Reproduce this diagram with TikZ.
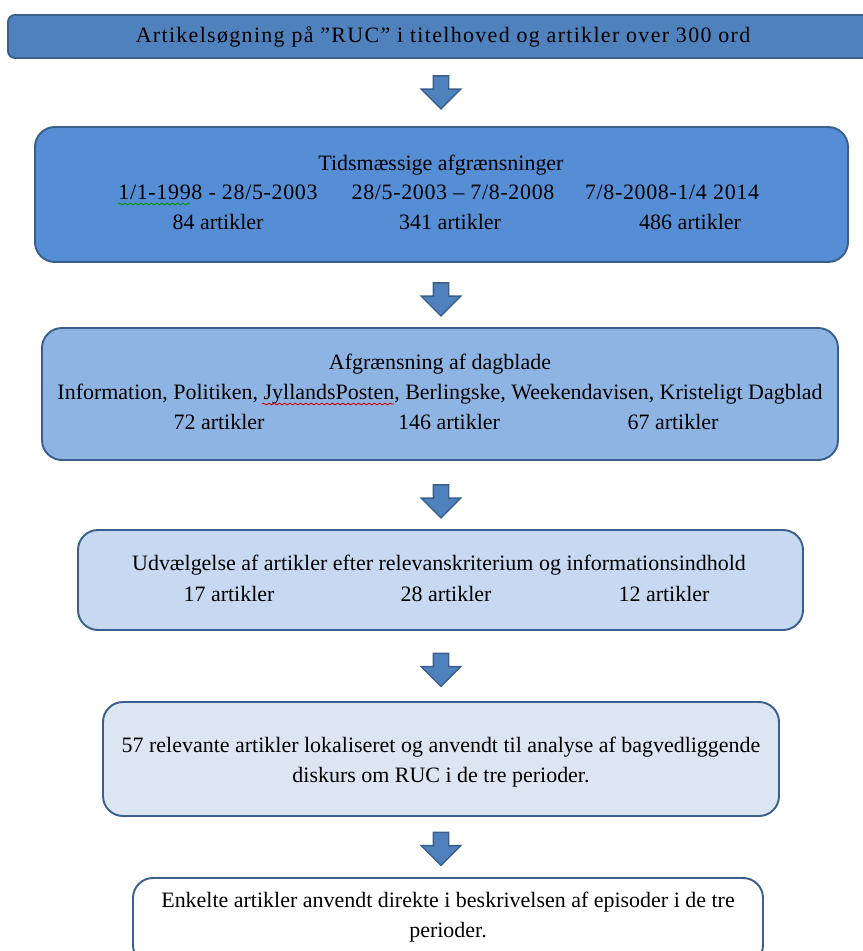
\documentclass[tikz,border=0pt]{standalone}
\usepackage{fontspec}
\setmainfont{Liberation Serif}
\usetikzlibrary{positioning, calc, shapes.arrows, decorations.pathmorphing}

\definecolor{edge}{HTML}{3A5F8C}
\definecolor{shadeA}{HTML}{4F81BD}
\definecolor{shadeB}{HTML}{558ED5}
\definecolor{shadeC}{HTML}{8EB4E3}
\definecolor{shadeD}{HTML}{C6D9F1}
\definecolor{shadeE}{HTML}{DCE6F2}

\begin{document}
\begin{tikzpicture}[x=0.2mm, y=-0.2mm, font=\fontsize{12.5}{15}\selectfont,
    stage/.style={draw=edge, line width=1.1pt, rounded corners=4mm, inner sep=0pt},
    txt/.style={inner sep=0pt, anchor=base},
    downarrow/.style={single arrow, draw=edge, fill=shadeA, line width=0.8pt,
        shape border rotate=270, minimum height=6.6mm, minimum width=7.6mm,
        single arrow head extend=2.4mm, inner xsep=1.4mm, inner ysep=0pt},
    squiggle/.style={line width=0.5pt, decorate, decoration={snake, amplitude=0.5pt, segment length=3pt}}]

    \useasboundingbox (0,0) rectangle (863,951);

    % Boxes of the selection steps
    \node (search) [stage, fill=shadeA, rounded corners=1.4mm, minimum width=174.4mm, minimum height=8.6mm] at (444,36.5) {};
    \node (period) [stage, fill=shadeB, minimum width=162.6mm, minimum height=27mm] at (441.5,194.5) {};
    \node (paper)  [stage, fill=shadeC, minimum width=159.2mm, minimum height=26.4mm] at (440,394) {};
    \node (select) [stage, fill=shadeD, minimum width=145mm, minimum height=20mm] at (440.5,580) {};
    \node (found)  [stage, fill=shadeE, minimum width=135.2mm, minimum height=22.8mm] at (441,759) {};
    \node (used)   [stage, fill=white, minimum width=126mm, minimum height=17.4mm] at (448,921.5) {};

    % Block arrows between the steps
    \node (a1) [downarrow] at (441,88.5) {};
    \node (a2) [downarrow] at (441,295.5) {};
    \node (a3) [downarrow] at (441,497.5) {};
    \node (a4) [downarrow] at (441,666) {};
    \node (a5) [downarrow] at (441,845) {};

    % Texts
    \node (t1) [txt, font=\fontsize{12.5}{15}\selectfont\addfontfeatures{LetterSpace=6}] at (443,43) {Artikelsøgning på ”RUC” i titelhoved og artikler over 300 ord};

    \node (t2) [txt] at (441,170) {Tidsmæssige afgrænsninger};
    \node (p1) [txt, font=\fontsize{12.5}{15}\selectfont\addfontfeatures{LetterSpace=3}] at (218,199) {1/1-1998 - 28/5-2003};
    \node (p2) [txt, font=\fontsize{12.5}{15}\selectfont\addfontfeatures{LetterSpace=3}] at (453,199) {28/5-2003 – 7/8-2008};
    \node (p3) [txt, font=\fontsize{12.5}{15}\selectfont\addfontfeatures{LetterSpace=3}] at (672,199) {7/8-2008-1/4 2014};
    \node (n1) [txt] at (218,229) {84 artikler};
    \node (n2) [txt] at (450,229) {341 artikler};
    \node (n3) [txt] at (690,229) {486 artikler};

    \node (t3) [txt] at (440,369) {Afgrænsning af dagblade};
    \node (t3b) [txt] at (440,399) {Information, Politiken, JyllandsPosten, Berlingske, Weekendavisen, Kristeligt Dagblad};
    \node (m1) [txt] at (219,429) {72 artikler};
    \node (m2) [txt] at (449,429) {146 artikler};
    \node (m3) [txt] at (673,429) {67 artikler};

    \node (t4) [txt] at (439,570) {Udvælgelse af artikler efter relevanskriterium og informationsindhold};
    \node (k1) [txt] at (229,601) {17 artikler};
    \node (k2) [txt] at (446,601) {28 artikler};
    \node (k3) [txt] at (664,601) {12 artikler};

    \node (t5) [txt] at (441,752) {57 relevante artikler lokaliseret og anvendt til analyse af bagvedliggende};
    \node (t5b) [txt] at (441,782) {diskurs om RUC i de tre perioder.};

    \node (t6) [txt] at (448,907) {Enkelte artikler anvendt direkte i beskrivelsen af episoder i de tre};
    \node (t6b) [txt] at (448,937) {perioder.};

    % Spell check marks
    \draw[squiggle, green!60!black] ($(p1.base west)+(0,5)$) -- +(72,0);
    \draw[squiggle, red!80!black] ($(t3b.base west)+(205,5)$) -- +(132,0);
\end{tikzpicture}
\end{document}
